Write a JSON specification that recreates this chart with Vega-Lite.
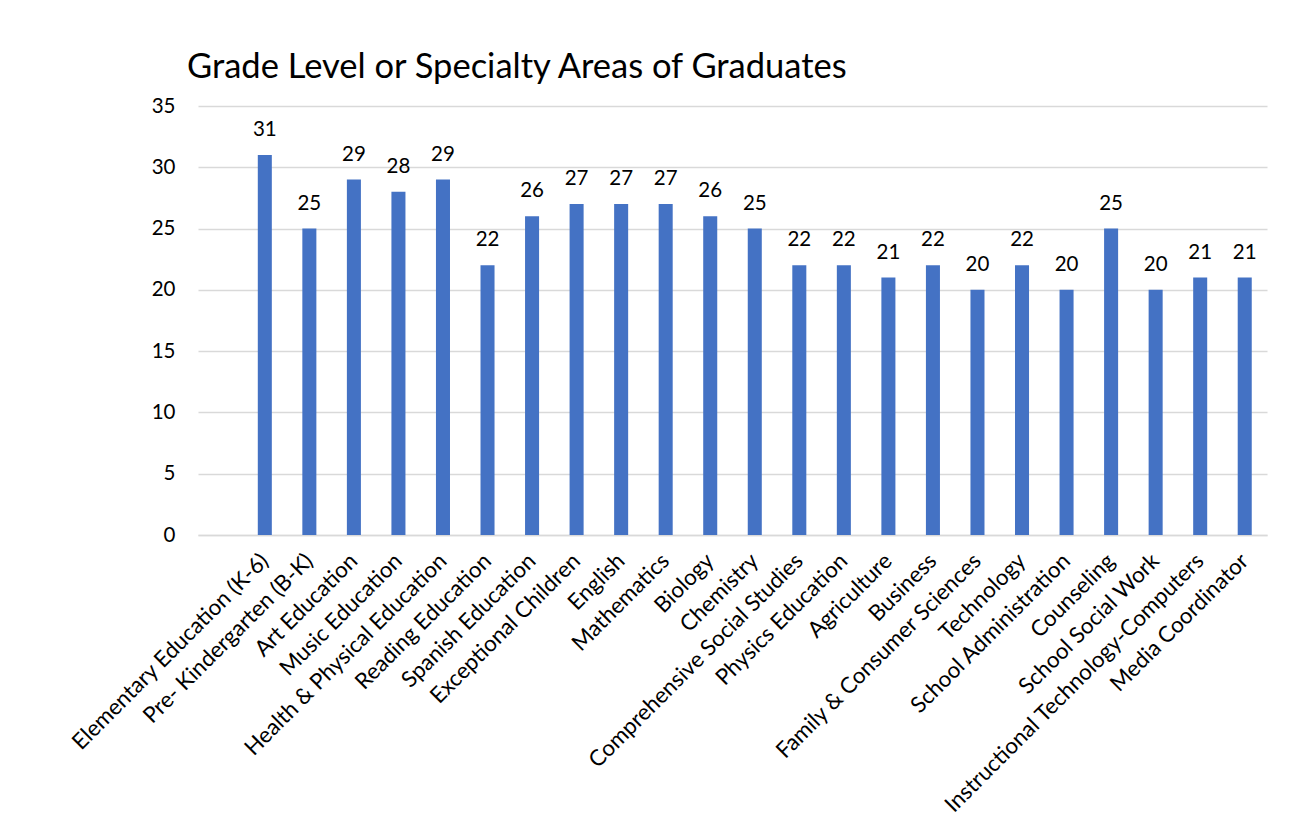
{
  "$schema": "https://vega.github.io/schema/vega-lite/v6.json",
  "width": 1069,
  "height": 429,
  "autosize": "none",
  "padding": {"left": 198, "top": 106, "right": 30, "bottom": 301},
  "background": "white",
  "title": {
    "text": "Grade Level or Specialty Areas of Graduates",
    "anchor": "start",
    "frame": "group",
    "dx": -11,
    "offset": 11,
    "font": "Lato",
    "fontSize": 34.5,
    "fontWeight": "normal",
    "color": "#000000"
  },
  "data": {
    "values": [
      {"area": "Elementary Education (K-6)", "count": 31},
      {"area": "Pre- Kindergarten (B-K)", "count": 25},
      {"area": "Art Education", "count": 29},
      {"area": "Music Education", "count": 28},
      {"area": "Health & Physical Education", "count": 29},
      {"area": "Reading Education", "count": 22},
      {"area": "Spanish Education", "count": 26},
      {"area": "Exceptional Children", "count": 27},
      {"area": "English", "count": 27},
      {"area": "Mathematics", "count": 27},
      {"area": "Biology", "count": 26},
      {"area": "Chemistry", "count": 25},
      {"area": "Comprehensive Social Studies", "count": 22},
      {"area": "Physics Education", "count": 22},
      {"area": "Agriculture", "count": 21},
      {"area": "Business", "count": 22},
      {"area": "Family & Consumer Sciences", "count": 20},
      {"area": "Technology", "count": 22},
      {"area": "School Administration", "count": 20},
      {"area": "Counseling", "count": 25},
      {"area": "School Social Work", "count": 20},
      {"area": "Instructional Technology-Computers", "count": 21},
      {"area": "Media Coordinator", "count": 21}
    ]
  },
  "encoding": {
    "x": {
      "field": "area",
      "type": "nominal",
      "sort": null,
      "title": null,
      "scale": {
        "domain": [" ", "Elementary Education (K-6)", "Pre- Kindergarten (B-K)", "Art Education", "Music Education", "Health & Physical Education", "Reading Education", "Spanish Education", "Exceptional Children", "English", "Mathematics", "Biology", "Chemistry", "Comprehensive Social Studies", "Physics Education", "Agriculture", "Business", "Family & Consumer Sciences", "Technology", "School Administration", "Counseling", "School Social Work", "Instructional Technology-Computers", "Media Coordinator"],
        "paddingInner": 0.685,
        "paddingOuter": 0.3425
      },
      "axis": {
        "labelAngle": -45,
        "labelAlign": "right",
        "labelBaseline": "middle",
        "labelPadding": 22,
        "labelFont": "Lato",
        "labelFontSize": 22.3,
        "labelColor": "#000000",
        "labelLimit": 1000,
        "labelOverlap": false,
        "ticks": false,
        "domainColor": "#d9d9d9",
        "domainWidth": 1.5,
        "grid": false
      }
    },
    "y": {
      "field": "count",
      "type": "quantitative",
      "title": null,
      "scale": {"domain": [0, 35]},
      "axis": {
        "values": [0, 5, 10, 15, 20, 25, 30, 35],
        "grid": true,
        "gridColor": "#d9d9d9",
        "gridWidth": 1.5,
        "domain": false,
        "ticks": false,
        "labelPadding": 23,
        "labelFont": "Lato",
        "labelFontSize": 20.5,
        "labelColor": "#000000"
      }
    }
  },
  "layer": [
    {"mark": {"type": "bar", "color": "#4472C4"}},
    {
      "mark": {"type": "text", "baseline": "bottom", "dy": -15, "font": "Lato", "fontSize": 20.5, "color": "#000000"},
      "encoding": {"text": {"field": "count", "type": "quantitative"}}
    }
  ],
  "config": {"view": {"stroke": null}}
}
